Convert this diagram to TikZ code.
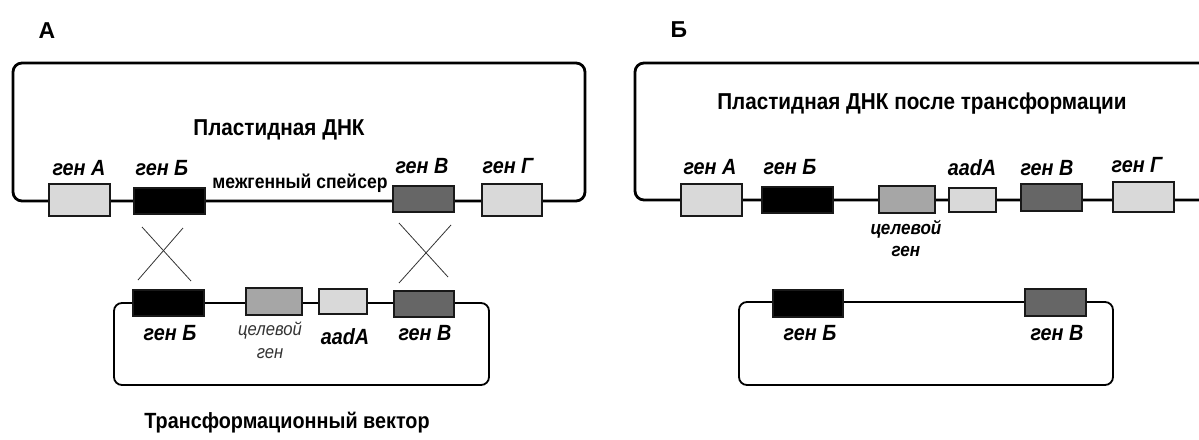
\documentclass[tikz,border=0pt]{standalone}
\usepackage{fontspec}
\setmainfont{Liberation Sans}
\newfontfamily\narrowsans{Liberation Sans}[FakeStretch=0.9]
\begin{document}
\begin{tikzpicture}[x=1pt,y=-1pt,
  dna/.style={line width=2.8pt, rounded corners=9pt},
  vec/.style={line width=1.8pt, rounded corners=8pt},
  gbox/.style={draw=black!90, line width=1.8pt, inner sep=0pt, rectangle},
  glabel/.style={font=\narrowsans\fontsize{22}{24}\selectfont\bfseries\itshape, inner sep=0pt},
  tlabel/.style={font=\narrowsans\fontsize{18.5}{23}\selectfont\itshape, text=black!80, inner sep=0pt, align=center},
  title/.style={font=\narrowsans\fontsize{23}{26}\selectfont\bfseries, inner sep=0pt},
  panel/.style={font=\fontsize{23}{25}\selectfont\bfseries, inner sep=0pt},
  xline/.style={line width=0.8pt, black!80}]
\definecolor{lightg}{HTML}{D9D9D9}
\definecolor{midg}{HTML}{A6A6A6}
\definecolor{darkg}{HTML}{666666}
\useasboundingbox (0,0) rectangle (1199,439);
\clip (0,0) rectangle (1199,439);

% ---------- panel A: plastid DNA ----------
\node[panel] (pA) at (47,31) {А};
\draw[dna] (300,63) -- (13,63) -- (13,201) -- (585,201) -- (585,63) -- (300,63);
\node[title] (tA) at (279,130) {Пластидная ДНК};

\node[gbox, fill=lightg, minimum width=61, minimum height=32] (aA) at (79.5,200) {};
\node[gbox, fill=black,  minimum width=71, minimum height=26] (aB) at (169.5,201) {};
\node[gbox, fill=darkg,  minimum width=61, minimum height=26] (aV) at (423.5,199) {};
\node[gbox, fill=lightg, minimum width=60, minimum height=32] (aG) at (512,200) {};

\node[glabel] (laA) at (79,168) {ген А};
\node[glabel] (laB) at (162,168) {ген Б};
\node[glabel] (laV) at (422,166) {ген В};
\node[glabel] (laG) at (508,166) {ген Г};
\node[title, font=\narrowsans\fontsize{19.5}{22}\selectfont\bfseries] (spacer) at (300,183) {межгенный спейсер};

% crossing-over marks
\draw[xline] (142,227) -- (191,281);
\draw[xline] (183,228) -- (138,280);
\draw[xline] (399,223) -- (448,277);
\draw[xline] (451,225) -- (399,283);

% ---------- panel A: transformation vector ----------
\draw[vec] (300,303) -- (114,303) -- (114,385) -- (489,385) -- (489,303) -- (300,303);
\node[gbox, fill=black,  minimum width=71, minimum height=26] (vB) at (168.5,303) {};
\node[gbox, fill=midg,   minimum width=56, minimum height=27] (vT) at (274,301.5) {};
\node[gbox, fill=lightg, minimum width=48, minimum height=25] (vA) at (343,301.5) {};
\node[gbox, fill=darkg,  minimum width=60, minimum height=26] (vV) at (424,304) {};

\node[glabel] (lvB) at (170,333) {ген Б};
\node[tlabel] (lvT) at (270,340) {целевой\\ген};
\node[glabel] (lvA) at (345,337) {aadA};
\node[glabel] (lvV) at (425,333) {ген В};
\node[title, font=\narrowsans\fontsize{22}{24}\selectfont\bfseries] (tV) at (287,423) {Трансформационный вектор};

% ---------- panel B: plastid DNA after transformation ----------
\node[panel] (pB) at (679,30) {Б};
\draw[dna] (1230,63) -- (635,63) -- (635,200) -- (1230,200);
\node[title] (tB) at (922,104) {Пластидная ДНК после трансформации};

\node[gbox, fill=lightg, minimum width=61, minimum height=32] (bA) at (711.5,200) {};
\node[gbox, fill=black,  minimum width=71, minimum height=26] (bB) at (797.5,200) {};
\node[gbox, fill=midg,   minimum width=56, minimum height=27] (bT) at (907,199.5) {};
\node[gbox, fill=lightg, minimum width=47, minimum height=24] (bAad) at (972.5,200) {};
\node[gbox, fill=darkg,  minimum width=61, minimum height=27] (bV) at (1051.5,197.5) {};
\node[gbox, fill=lightg, minimum width=61, minimum height=30] (bG) at (1143.5,197) {};

\node[glabel] (lbA) at (710,167) {ген А};
\node[glabel] (lbB) at (790,167) {ген Б};
\node[glabel, font=\narrowsans\fontsize{19}{22}\selectfont\bfseries\itshape, align=center] (lbT) at (906,238) {целевой\\ген};
\node[glabel] (lbAad) at (972,168) {aadA};
\node[glabel] (lbV) at (1047,168) {ген В};
\node[glabel] (lbG) at (1137,165) {ген Г};

% ---------- panel B: vector remnant ----------
\draw[vec] (900,302) -- (739,302) -- (739,385) -- (1113,385) -- (1113,302) -- (900,302);
\node[gbox, fill=black, minimum width=70, minimum height=27] (cB) at (808,303.5) {};
\node[gbox, fill=darkg, minimum width=61, minimum height=27] (cV) at (1055.5,302.5) {};
\node[glabel] (lcB) at (810,333) {ген Б};
\node[glabel] (lcV) at (1057,333) {ген В};
\end{tikzpicture}
\end{document}
